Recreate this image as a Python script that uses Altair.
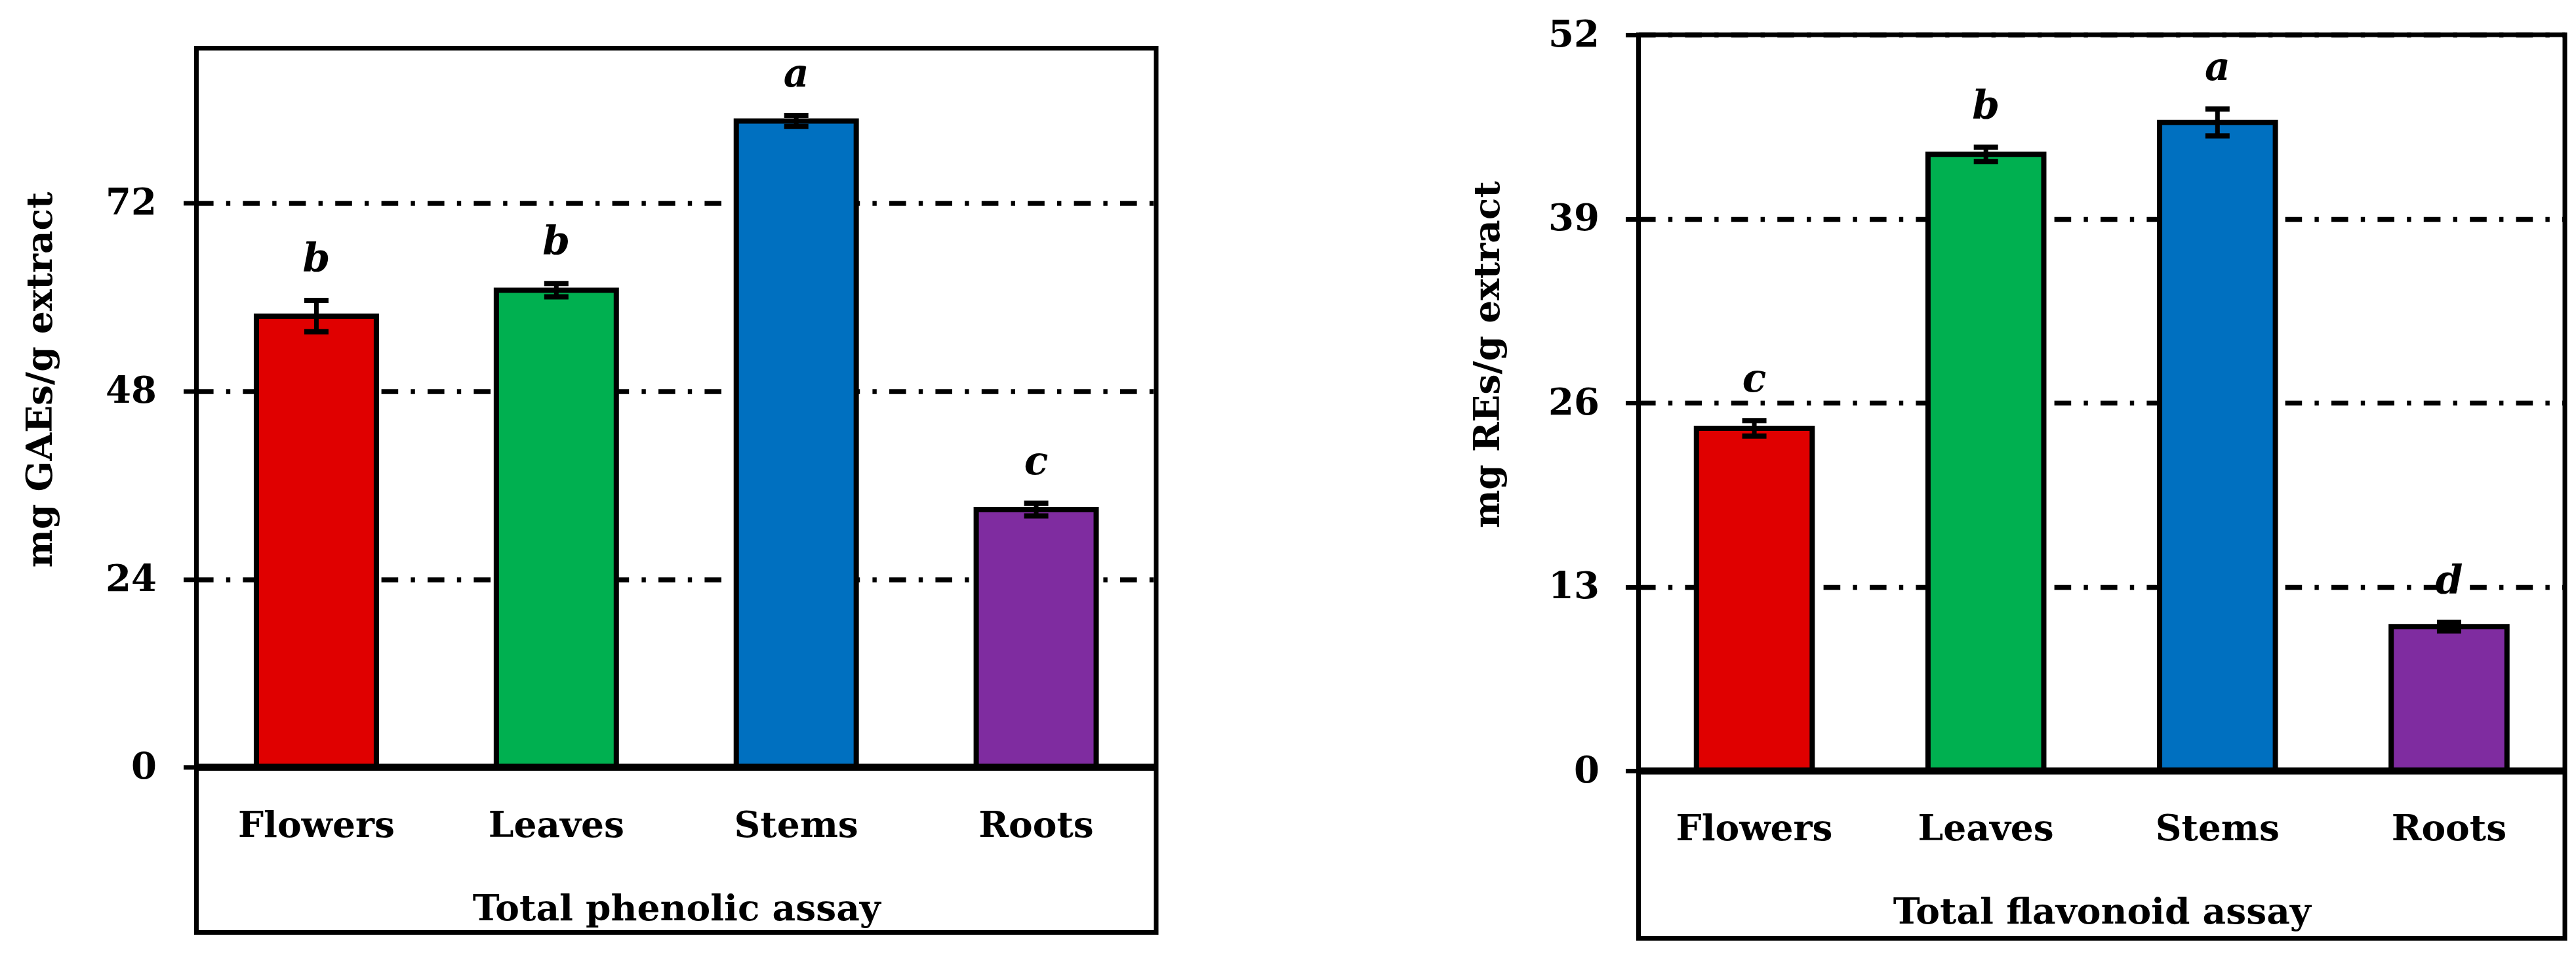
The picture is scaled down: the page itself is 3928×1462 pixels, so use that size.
import altair as alt
import pandas as pd

categories = ["Flowers", "Leaves", "Stems", "Roots"]
bar_colors = ["#E00000", "#00B050", "#0070C0", "#7F2CA0"]

phenolic_mean = [57.6, 60.9, 82.5, 32.9]
phenolic_err = [2.0, 0.85, 0.7, 0.8]
phenolic_letters = ["b", "b", "a", "c"]
phenolic_ticks = [0, 24, 48, 72]
phenolic_domain = [-21.06, 91.8]

flavonoid_mean = [24.2, 43.55, 45.8, 10.2]
flavonoid_err = [0.55, 0.5, 0.95, 0.3]
flavonoid_letters = ["c", "b", "a", "d"]
flavonoid_ticks = [0, 13, 26, 39, 52]
flavonoid_domain = [-11.82, 52]

FONT = "DejaVu Serif"


def panel(means, errs, letters, ticks, domain, ytitle, xtitle, width, height,
          title_x, title_y, label_pad, xtitle_y, ylabel_pad):
    df = pd.DataFrame({"cat": categories, "mean": means, "err": errs,
                       "letter": letters, "color": bar_colors})
    df["lo"] = df["mean"] - df["err"]
    df["hi"] = df["mean"] + df["err"]
    df["zero"] = 0.0
    base = alt.Chart(df)
    yscale = alt.Scale(domain=domain, nice=False, zero=False)
    xscale = alt.Scale(paddingInner=0.5, paddingOuter=0.25)
    x_axis = alt.Axis(title=xtitle, domain=False, ticks=False, grid=False, labelAngle=0,
                      labelFont=FONT, labelFontSize=55, labelFontWeight="bold",
                      labelColor="black", labelBaseline="alphabetic", labelPadding=label_pad,
                      labelLimit=2000,
                      titleFont=FONT, titleFontSize=55, titleFontWeight="bold",
                      titleColor="black", titleBaseline="alphabetic", titleY=xtitle_y,
                      titleLimit=3000)
    y_axis = alt.Axis(values=ticks, title=ytitle, domain=False, tickSize=20, tickWidth=7,
                      tickColor="black", labelFont=FONT, labelFontSize=56,
                      labelFontWeight="bold", labelColor="black", labelPadding=ylabel_pad,
                      grid=True, gridColor="black", gridWidth=7.5,
                      gridDash=[25.6, 19.2, 6.4, 19.2],
                      titleFont=FONT, titleFontSize=55, titleFontWeight="bold",
                      titleColor="black", titleX=title_x, titleY=title_y,
                      titleBaseline="alphabetic", titleAlign="center", titleLimit=3000)
    xs = alt.X("cat:N", sort=categories, scale=xscale, axis=x_axis)

    def ys(field):
        return alt.Y(field, scale=yscale, axis=y_axis)

    bars = base.mark_bar(stroke="black", strokeWidth=8, strokeJoin="miter").encode(
        x=xs, y=ys("mean:Q"), y2="zero:Q",
        color=alt.Color("color:N", scale=None),
    )
    err_line = base.mark_rule(color="black", strokeWidth=7).encode(
        x=xs, y=ys("lo:Q"), y2="hi:Q")
    cap_lo = base.mark_tick(color="black", thickness=8, size=37, opacity=1).encode(
        x=xs, y=ys("lo:Q"))
    cap_hi = base.mark_tick(color="black", thickness=8, size=37, opacity=1).encode(
        x=xs, y=ys("hi:Q"))
    zero = base.mark_rule(color="black", strokeWidth=10).encode(y=ys("zero:Q"))
    letters_layer = base.mark_text(font=FONT, fontSize=60, fontWeight="bold",
                                   fontStyle="italic", baseline="alphabetic",
                                   color="black", dy=-44).encode(
        x=xs, y=ys("hi:Q"), text="letter:N")
    return alt.layer(bars, err_line, cap_lo, cap_hi, zero, letters_layer).properties(
        width=width, height=height)


left = panel(phenolic_mean, phenolic_err, phenolic_letters, phenolic_ticks, phenolic_domain,
             "mg GAEs/g extract", "Total phenolic assay", 1463.5, 1348,
             -221, 505, -145.5, -19, 41)
right = panel(flavonoid_mean, flavonoid_err, flavonoid_letters, flavonoid_ticks,
              flavonoid_domain, "mg REs/g extract", "Total flavonoid assay", 1412.5, 1377.4,
              -213, 487, -150, -23, 40)

spacer = alt.Chart(pd.DataFrame({"s": [0]})).mark_point(opacity=0, size=1).encode(
    x=alt.value(0), y=alt.value(0)).properties(
    width=1463.5, height=1, view=alt.ViewBackground(stroke="transparent", strokeWidth=0))

left_col = alt.vconcat(spacer, left, spacing=15.4)

chart = alt.hconcat(left_col, right, spacing=466).properties(
    padding={"left": 22.5, "top": 13, "right": 0, "bottom": 0},
    background="white",
).configure_view(stroke="black", strokeWidth=7)

chart.save("out.html", embed_options={"renderer": "svg", "actions": False})
